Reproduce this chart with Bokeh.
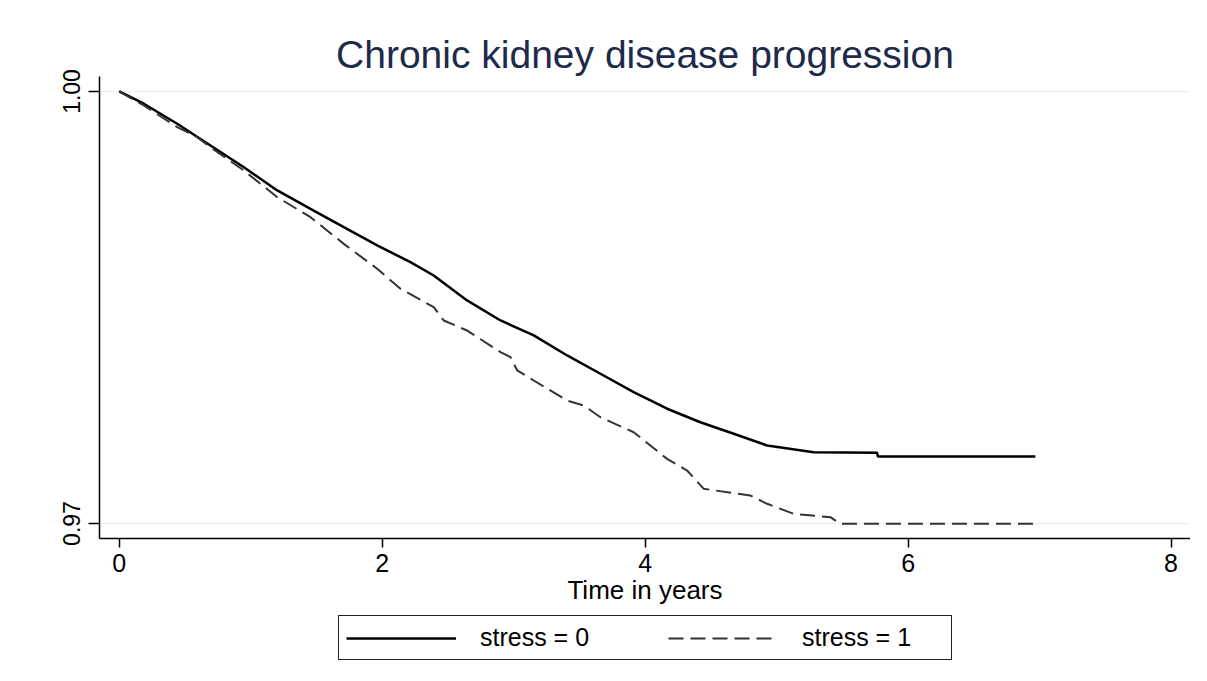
from bokeh.plotting import figure
from bokeh.layouts import column
from bokeh.models import Range1d, FixedTicker, NumeralTickFormatter, Legend, LegendItem
from bokeh.embed import file_html
from bokeh.resources import INLINE

# Kaplan-Meier survival estimates
time_stress0 = [0.0, 0.187, 0.441, 0.694, 0.948, 1.202, 1.455, 1.708, 1.962, 2.215,
                2.392, 2.646, 2.900, 3.153, 3.407, 3.660, 3.913, 4.167, 4.420, 4.674,
                4.928, 5.282, 5.764, 5.770, 6.968]
surv_stress0 = [1.0, 0.99915, 0.99776, 0.99625, 0.99474, 0.99313, 0.99185, 0.99058, 0.98931, 0.98815,
                0.98722, 0.98549, 0.98410, 0.98306, 0.98167, 0.98040, 0.97912, 0.97797, 0.97703, 0.97623,
                0.97542, 0.97495, 0.97491, 0.97465, 0.97465]

time_stress1 = [0.0, 0.187, 0.441, 0.593, 0.694, 0.948, 1.202, 1.455, 1.708, 1.962,
                2.139, 2.392, 2.468, 2.646, 2.900, 2.976, 3.027, 3.153, 3.407, 3.533,
                3.660, 3.913, 4.167, 4.319, 4.446, 4.801, 4.928, 5.130, 5.409, 5.485, 6.981]
surv_stress1 = [1.0, 0.99903, 0.99752, 0.99683, 0.99613, 0.99451, 0.99266, 0.99127, 0.98942, 0.98769,
                0.98630, 0.98502, 0.98410, 0.98340, 0.98190, 0.98155, 0.98063, 0.97993, 0.97854, 0.97819,
                0.97738, 0.97634, 0.97449, 0.97368, 0.97241, 0.97194, 0.97137, 0.97067, 0.97044, 0.96998, 0.96998]

x_ticks = [0, 2, 4, 6, 8]
y_ticks = [0.97, 1.00]
labels = ["stress = 0", "stress = 1"]

FONT = "Liberation Sans"
SOLID = dict(line_color="black", line_width=2.5)
DASHED = dict(line_color="#333333", line_width=2.0, line_dash="15 7")

p = figure(width=1190, height=614, output_backend="svg", toolbar_location=None,
           x_range=Range1d(-0.150, 8.148), y_range=Range1d(0.96896, 1.00104),
           min_border_left=99, min_border_right=0, min_border_top=76, min_border_bottom=76,
           title="Chronic kidney disease progression")
p.background_fill_color = "white"
p.border_fill_color = "white"
p.outline_line_color = None

p.title.align = "center"
p.title.text_font = FONT
p.title.text_font_size = "39px"
p.title.text_font_style = "normal"
p.title.text_color = "#1e2a4a"
p.title.standoff = 2

p.xgrid.grid_line_color = None
p.ygrid.grid_line_color = "#eaf2f3"
p.ygrid.grid_line_width = 1.5

p.xaxis.ticker = FixedTicker(ticks=x_ticks)
p.yaxis.ticker = FixedTicker(ticks=y_ticks)
p.yaxis.formatter = NumeralTickFormatter(format="0.00")
p.yaxis.major_label_orientation = "vertical"
p.xaxis.axis_label = "Time in years"

for ax in (p.xaxis, p.yaxis):
    ax.axis_line_color = "black"
    ax.axis_line_width = 1.5
    ax.major_tick_line_color = "black"
    ax.major_tick_line_width = 1.5
    ax.major_tick_in = 0
    ax.minor_tick_line_color = None
    ax.major_label_text_font = FONT
    ax.major_label_text_color = "black"
    ax.axis_label_text_font = FONT
    ax.axis_label_text_font_style = "normal"
    ax.axis_label_text_color = "black"

p.xaxis.major_tick_out = 9
p.yaxis.major_tick_out = 11
p.xaxis.major_label_text_font_size = "25px"
p.yaxis.major_label_text_font_size = "23px"
p.xaxis.major_label_standoff = 6
p.yaxis.major_label_standoff = 8
p.xaxis.axis_label_text_font_size = "26px"
p.xaxis.axis_label_standoff = 0

p.line(time_stress0, surv_stress0, **SOLID)
p.line(time_stress1, surv_stress1, **DASHED)

# Legend strip below the chart (its frame is aligned with the chart's frame)
lg = figure(width=1190, height=51, output_backend="svg", toolbar_location=None,
            x_range=Range1d(0, 1), y_range=Range1d(0, 1),
            min_border_left=0, min_border_right=0, min_border_top=0, min_border_bottom=0)
lg.axis.visible = False
lg.grid.visible = False
lg.outline_line_color = None
lg.background_fill_color = "white"
lg.border_fill_color = "white"
g0 = lg.line([-5, -4], [-5, -4], **SOLID)
g1 = lg.line([-5, -4], [-5, -4], **DASHED)

legend = Legend(items=[LegendItem(label=labels[0], renderers=[g0]),
                       LegendItem(label=labels[1], renderers=[g1])],
                orientation="horizontal", location=(239, 5))
legend.label_text_font = FONT
legend.label_text_font_size = "25px"
legend.label_text_color = "black"
legend.label_width = 142
legend.glyph_width = 110
legend.glyph_height = 20
legend.label_standoff = 24
legend.spacing = 46
legend.padding = 7
legend.margin = 0
legend.border_line_color = "#222222"
legend.border_line_alpha = 1.0
legend.border_line_width = 1.5
legend.background_fill_color = "white"
legend.background_fill_alpha = 1.0
lg.add_layout(legend, "center")

layout = column(p, lg, spacing=0)
open("out.html", "w").write(file_html(layout, INLINE))
